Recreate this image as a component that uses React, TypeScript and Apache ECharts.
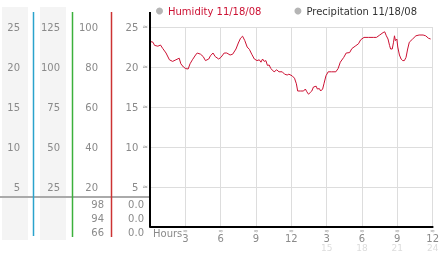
import React, { useEffect, useRef } from "react";
import * as echarts from "echarts";

// Hours since start of the day (0-24) and humidity readings
const hours = [
  0, 0.25, 0.39, 0.67, 0.89, 1.09, 1.36, 1.65, 1.92, 2.2, 2.48, 2.62, 2.84, 3.04, 3.24, 3.4, 3.6, 3.87,
  4.01, 4.29, 4.52, 4.71, 4.99, 5.13, 5.35, 5.54, 5.83, 6.02, 6.3, 6.52, 6.8, 7.02, 7.3, 7.5, 7.69, 7.86,
  8.05, 8.25, 8.44, 8.64, 8.86, 9.09, 9.28, 9.42, 9.56, 9.7, 9.84, 9.97, 10.12, 10.26, 10.54, 10.76, 10.95,
  11.23, 11.43, 11.65, 11.79, 12.07, 12.27, 12.43, 12.54, 12.77, 13.04, 13.19, 13.32, 13.46, 13.6, 13.74,
  13.88, 14.11, 14.21, 14.38, 14.49, 14.66, 14.77, 14.94, 15.13, 15.41, 15.78, 15.97, 16.16, 16.45, 16.66,
  16.95, 17.14, 17.42, 17.7, 17.89, 18.17, 18.54, 18.96, 19.23, 19.51, 19.79, 19.93, 20.07, 20.21, 20.34,
  20.43, 20.57, 20.68, 20.76, 20.84, 20.96, 21.04, 21.18, 21.32, 21.46, 21.6, 21.74, 21.88, 22.02, 22.3,
  22.58, 22.85, 23.19, 23.41, 23.64, 23.83,
];
const humidity = [
  23.2, 23.1, 22.7, 22.6, 22.75, 22.3, 21.75, 20.9, 20.7, 20.9, 21.1, 20.4, 20.0, 19.8, 19.75, 20.4, 20.9, 21.5,
  21.75, 21.6, 21.3, 20.8, 21.0, 21.4, 21.75, 21.3, 21.0, 21.2, 21.75, 21.75, 21.5, 21.6, 22.25, 23.0, 23.6, 23.85,
  23.3, 22.5, 22.2, 21.6, 21.0, 20.8, 20.9, 20.6, 21.0, 20.7, 20.8, 20.2, 20.25, 19.8, 19.4, 19.65, 19.4,
  19.4, 19.1, 19.0, 19.1, 18.9, 18.6, 17.9, 17.0, 17.0, 17.0, 17.25, 16.9, 16.6, 16.8, 17.0,
  17.5, 17.6, 17.25, 17.3, 17.0, 17.25, 17.9, 18.9, 19.4, 19.4, 19.4, 19.8, 20.6, 21.2, 21.75,
  21.8, 22.3, 22.6, 22.9, 23.4, 23.7, 23.7, 23.7, 23.7, 24.0, 24.3, 24.4, 23.9, 23.5, 22.7,
  22.25, 22.25, 23.1, 23.9, 23.3, 23.5, 22.5, 21.5, 21.0, 20.8, 20.8, 21.2, 22.25, 23.1, 23.5,
  23.9, 24.0, 24.0, 23.9, 23.6, 23.5,
];
const precipitation: number[][] = [];

// Tick label columns
const mainTicks = [0, 5, 10, 15, 20, 25];
const col1Ticks = [0, 5, 10, 15, 20, 25];
const col2Ticks = [0, 25, 50, 75, 100, 125];
const col3Ticks = [0, 20, 40, 60, 80, 100];
const hourTicks = [0, 3, 6, 9, 12, 15, 18, 21, 24];
const hourTitle = "Hours";

// Bottom summary rows
const col3Rows = ["98", "94", "66"];
const col4Rows = ["0.0", "0.0", "0.0"];

const humidityName = "Humidity 11/18/08";
const precipName = "Precipitation 11/18/08";

const FONT = "DejaVu Sans";
const LABEL = "#8a8a8a";

export default function App() {
  const ref = useRef<HTMLDivElement>(null);
  useEffect(() => {
    if (!ref.current) return;
    const chart = echarts.init(ref.current, null, { renderer: "svg" });
    const sideAxis = (ticks: number[], offset: number) => ({
      type: "value",
      position: "left",
      offset,
      min: ticks[0],
      max: ticks[ticks.length - 1],
      interval: ticks[1] - ticks[0],
      axisLine: { show: false },
      axisTick: { show: false },
      splitLine: { show: false },
      axisLabel: {
        margin: 2,
        color: LABEL,
        fontFamily: FONT,
        fontSize: 10,
        formatter: (v: number) => (v === 0 ? "" : String(v)),
      },
    });
    const rowY = [204, 218, 232];
    const graphics: any[] = [
      { type: "rect", z: -10, shape: { x: 2, y: 7, width: 26, height: 233 }, style: { fill: "#f4f4f4" } },
      { type: "rect", z: -10, shape: { x: 40, y: 7, width: 26, height: 233 }, style: { fill: "#f4f4f4" } },
      { type: "line", z: 5, shape: { x1: 0, y1: 197, x2: 149, y2: 197 }, style: { stroke: "#aaaaaa", lineWidth: 2 } },
      { type: "line", z: 6, shape: { x1: 33.5, y1: 12, x2: 33.5, y2: 236 }, style: { stroke: "#2aa3cc", lineWidth: 1.5 } },
      { type: "line", z: 6, shape: { x1: 72.5, y1: 12, x2: 72.5, y2: 237 }, style: { stroke: "#3bb03b", lineWidth: 1.5 } },
      { type: "line", z: 6, shape: { x1: 111.5, y1: 12, x2: 111.5, y2: 237 }, style: { stroke: "#cc3333", lineWidth: 1.5 } },
      { type: "line", z: 6, shape: { x1: 150, y1: 12, x2: 150, y2: 227 }, style: { stroke: "#000", lineWidth: 2 } },
      {
        type: "text",
        style: { text: hourTitle, x: 153, y: 233, align: "left", verticalAlign: "middle", fill: LABEL, font: `10px "${FONT}"` },
      },
    ];
    col3Rows.forEach((t, i) =>
      graphics.push({
        type: "text",
        style: { text: t, x: 104, y: rowY[i], align: "right", verticalAlign: "middle", fill: LABEL, font: `10px "${FONT}"` },
      })
    );
    col4Rows.forEach((t, i) =>
      graphics.push({
        type: "text",
        style: { text: t, x: 144, y: rowY[i], align: "right", verticalAlign: "middle", fill: LABEL, font: `10px "${FONT}"` },
      })
    );
    chart.setOption({
      animation: false,
      textStyle: { fontFamily: FONT },
      grid: { left: 150, right: 5, top: 27, bottom: 26, containLabel: false },
      legend: {
        left: 151,
        top: 1,
        itemWidth: 7,
        itemHeight: 7,
        itemGap: 33,
        icon: "circle",
        textStyle: { fontFamily: FONT, fontSize: 10 },
        data: [
          { name: humidityName, itemStyle: { color: "#b5b5b5" }, textStyle: { color: "#cc1133" } },
          { name: precipName, itemStyle: { color: "#b5b5b5" }, textStyle: { color: "#333" } },
        ],
      },
      xAxis: {
        type: "value",
        min: hourTicks[0],
        max: hourTicks[hourTicks.length - 1],
        interval: hourTicks[1] - hourTicks[0],
        axisLine: { show: true, lineStyle: { color: "#000", width: 2 } },
        axisTick: { show: false },
        splitLine: { show: true, lineStyle: { color: "#dddddd", width: 1 } },
        axisLabel: {
          margin: 0,
          hideOverlap: false,
          showMinLabel: false,
          showMaxLabel: true,
          color: LABEL,
          fontFamily: FONT,
          formatter: (v: number) => {
            if (v === 0) return "";
            if (v <= 12) return `{m|≈}\n{a|${v}}`;
            return `{m|≈}\n{a|${v - 12}}\n{b|${v}}`;
          },
          rich: {
            m: { fontSize: 6, lineHeight: 6, color: "#999", fontFamily: FONT },
            a: { fontSize: 10, lineHeight: 10, color: LABEL, fontFamily: FONT },
            b: { fontSize: 9, lineHeight: 9, color: "#dcdcdc", fontFamily: FONT },
          },
        },
      },
      yAxis: [
        {
          type: "value",
          position: "left",
          min: mainTicks[0],
          max: mainTicks[mainTicks.length - 1],
          interval: mainTicks[1] - mainTicks[0],
          axisLine: { show: false },
          axisTick: { show: false },
          splitLine: { show: true, lineStyle: { color: "#dddddd", width: 1 } },
          axisLabel: {
            margin: 2,
            formatter: (v: number) => (v === 0 ? "" : `{v|${v}} {m|≈}`),
            rich: {
              v: { fontSize: 10, color: LABEL, fontFamily: FONT },
              m: { fontSize: 7, color: "#999", fontFamily: FONT },
            },
          },
        },
        sideAxis(col3Ticks, 50),
        sideAxis(col2Ticks, 88),
        sideAxis(col1Ticks, 128),
      ],
      series: [
        {
          name: humidityName,
          type: "line",
          data: hours.map((h, i) => [h, humidity[i]]),
          showSymbol: false,
          symbol: "none",
          lineStyle: { color: "#cc1133", width: 1 },
          itemStyle: { color: "#cc1133" },
        },
        {
          name: precipName,
          type: "line",
          data: precipitation,
          showSymbol: false,
          symbol: "none",
          lineStyle: { color: "#336699", width: 1 },
        },
      ],
      graphic: graphics,
    });
    return () => chart.dispose();
  }, []);
  return (
    <div
      ref={ref}
      style={{ position: "fixed", left: 0, top: 0, width: 442, height: 253 }}
    />
  );
}
